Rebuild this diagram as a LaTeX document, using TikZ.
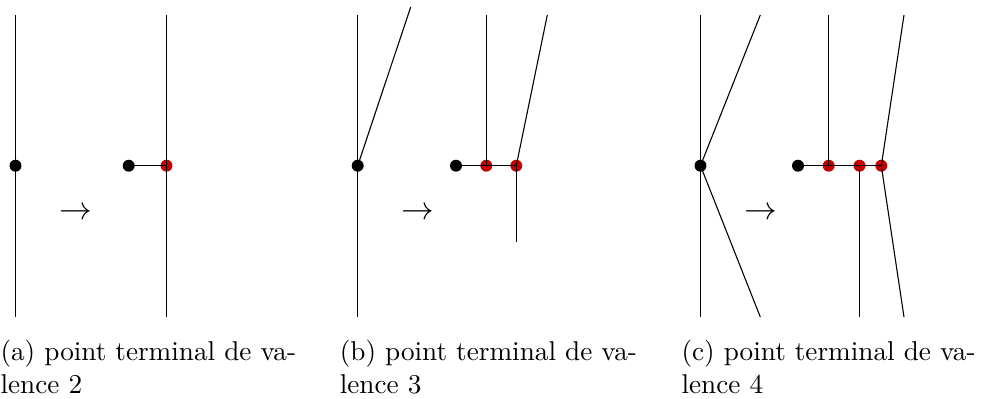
\documentclass[tikz,border=0pt]{standalone}
\definecolor{dotred}{rgb}{0.76,0,0}
\tikzset{
  bdot/.style={circle,fill=black,inner sep=0pt,minimum size=4.4pt},
  rdot/.style={circle,fill=dotred,inner sep=0pt,minimum size=4.4pt},
  edge/.style={line width=0.4pt,black},
  caption/.style={anchor=base west,inner sep=0pt},
  maparrow/.style={anchor=base,inner sep=0pt,font=\fontsize{12.4}{14}\selectfont}
}
\begin{document}
\begin{tikzpicture}[x=0.3676pt,y=-0.3676pt]
\useasboundingbox (0,0) rectangle (992,398);
% ---------- panel (a)
\node[bdot] (a0) at (15.5,165.7) {};
\coordinate (a0t) at (15.5,15);
\coordinate (a0b) at (15.5,317);
\draw[edge] (a0t) -- (a0b);
\node[maparrow] (aarr) at (76,219) {$\rightarrow$};
\node[bdot] (a1) at (128.7,165.7) {};
\node[rdot] (a2) at (166.5,165.7) {};
\coordinate (a2t) at (166.5,15);
\coordinate (a2b) at (166.5,317);
\draw[edge] (a1.center) -- (a2.center);
\draw[edge] (a2t) -- (a2b);
% ---------- panel (b)
\node[bdot] (b0) at (357.7,165.7) {};
\coordinate (b0t) at (357.7,15);
\coordinate (b0b) at (357.7,317);
\coordinate (b0s) at (410.7,7);
\draw[edge] (b0t) -- (b0b);
\draw[edge] (b0.center) -- (b0s);
\node[maparrow] (barr) at (418,219) {$\rightarrow$};
\node[bdot] (b1) at (456,165.7) {};
\node[rdot] (b2) at (486.3,165.7) {};
\node[rdot] (b3) at (516.3,165.7) {};
\coordinate (b2t) at (486.3,15);
\coordinate (b3t) at (547.3,15);
\coordinate (b3b) at (516.3,241.7);
\draw[edge] (b1.center) -- (b3.center);
\draw[edge] (b2.center) -- (b2t);
\draw[edge] (b3.center) -- (b3t);
\draw[edge] (b3.center) -- (b3b);
% ---------- panel (c)
\node[bdot] (c0) at (700.5,165.7) {};
\coordinate (c0t) at (700.5,15);
\coordinate (c0b) at (700.5,317);
\coordinate (c0u) at (760.3,15);
\coordinate (c0d) at (760.3,317);
\draw[edge] (c0t) -- (c0b);
\draw[edge] (c0.center) -- (c0u);
\draw[edge] (c0.center) -- (c0d);
\node[maparrow] (carr) at (761,219) {$\rightarrow$};
\node[bdot] (c1) at (798,165.7) {};
\node[rdot] (c2) at (828.7,165.7) {};
\node[rdot] (c3) at (859.5,165.7) {};
\node[rdot] (c4) at (881.3,165.7) {};
\coordinate (c2t) at (828.7,15);
\coordinate (c3b) at (859.5,317);
\coordinate (c4t) at (904,15);
\coordinate (c4b) at (904,317);
\draw[edge] (c1.center) -- (c4.center);
\draw[edge] (c2.center) -- (c2t);
\draw[edge] (c3.center) -- (c3b);
\draw[edge] (c4.center) -- (c4t);
\draw[edge] (c4.center) -- (c4b);
% ---------- captions
\node[caption] (capa1) at (0,360.5) {(a) point terminal de va-};
\node[caption] (capa2) at (0,393) {lence 2};
\node[caption] (capb1) at (339.3,360.5) {(b) point terminal de va-};
\node[caption] (capb2) at (339.3,393) {lence 3};
\node[caption] (capc1) at (681,360.5) {(c) point terminal de va-};
\node[caption] (capc2) at (681,393) {lence 4};
\end{tikzpicture}
\end{document}
